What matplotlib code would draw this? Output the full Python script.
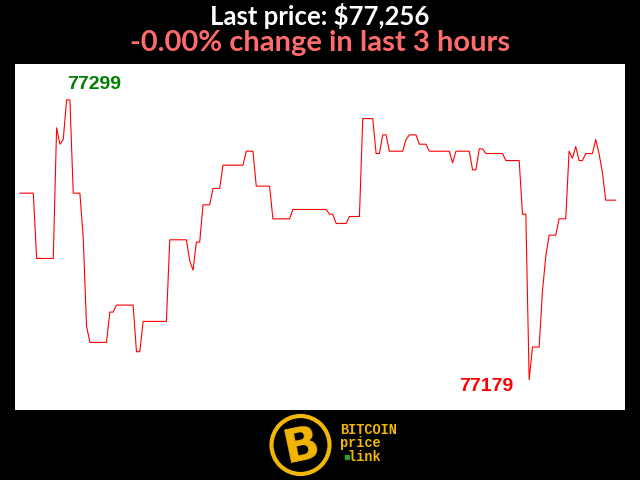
import matplotlib
matplotlib.use("Agg")
import matplotlib.pyplot as plt
import numpy as np
from matplotlib.patches import Circle

# price per minute over the last 3 hours
prices = [
    77259, 77259, 77259, 77259, 77259, 77231, 77231, 77231, 77231, 77231,
    77231, 77287, 77280, 77282, 77299, 77299, 77259, 77259, 77259, 77240,
    77202, 77195, 77195, 77195, 77195, 77195, 77195, 77208, 77208, 77211,
    77211, 77211, 77211, 77211, 77211, 77191, 77191, 77204, 77204, 77204,
    77204, 77204, 77204, 77204, 77204, 77239, 77239, 77239, 77239, 77239,
    77239, 77230, 77226, 77238, 77238, 77254, 77254, 77254, 77261, 77261,
    77261, 77271, 77271, 77271, 77271, 77271, 77271, 77271, 77277, 77277,
    77277, 77262, 77262, 77262, 77262, 77262, 77248, 77248, 77248, 77248,
    77248, 77248, 77252, 77252, 77252, 77252, 77252, 77252, 77252, 77252,
    77252, 77252, 77252, 77250, 77250, 77246, 77246, 77246, 77246, 77249,
    77249, 77249, 77249, 77291, 77291, 77291, 77291, 77276, 77276, 77284,
    77284, 77277, 77277, 77277, 77277, 77277, 77282, 77284, 77284, 77284,
    77280, 77280, 77280, 77277, 77277, 77277, 77277, 77277, 77277, 77277,
    77272, 77277, 77277, 77277, 77277, 77277, 77269, 77269, 77278, 77278,
    77276, 77276, 77276, 77276, 77276, 77276, 77273, 77273, 77273, 77273,
    77273, 77250, 77250, 77179, 77193, 77193, 77193, 77217, 77232, 77241,
    77241, 77241, 77248, 77248, 77248, 77277, 77274, 77279, 77273, 77273,
    77276, 77276, 77276, 77282, 77276, 77268, 77256, 77256, 77256, 77256,
]
last_price = 77256
pct_change = "-0.00"
hours = 3

prices = np.array(prices)
minutes = np.arange(len(prices))
i_max = int(np.argmax(prices))
i_min = int(np.argmin(prices))

fig = plt.figure(figsize=(6.4, 4.8), dpi=100, facecolor="black")
ax = fig.add_axes([15 / 640, 1 - 410 / 480, 610 / 640, 346 / 480])
ax.set_facecolor("white")
ax.plot(minutes, prices, color="red", lw=0.8)
ax.set_xlim(-1.5, 181.8)
ax.set_ylim(prices.min() - 13, prices.max() + 15.4)
ax.set_xticks([])
ax.set_yticks([])
for s in ax.spines.values():
    s.set_visible(False)

ax.annotate(str(prices[i_max]), (i_max, prices[i_max]), xytext=(1, 11),
            textcoords="offset pixels", ha="left", va="baseline",
            color="green", fontsize=14, fontweight="bold", family="Liberation Sans")
ax.annotate(str(prices[i_min]), (i_min, prices[i_min]), xytext=(-16, -11),
            textcoords="offset pixels", ha="right", va="baseline",
            color="red", fontsize=14, fontweight="bold", family="Liberation Sans")

fig.text(0.5, 1 - 25 / 480, f"Last price: ${last_price:,}", ha="center", va="baseline",
         color="white", fontsize=18.5, fontweight="bold", family="Lato")
fig.text(0.5, 1 - 51 / 480, f"{pct_change}% change in last {hours} hours",
         ha="center", va="baseline", color="#ff6b6b", fontsize=21, fontweight="bold", family="Lato")

# logo
gold = "#f2b705"
lax = fig.add_axes([0, 0, 1, 1], facecolor="none")
lax.set_xlim(0, 640)
lax.set_ylim(480, 0)
lax.axis("off")
lax.add_patch(Circle((300.5, 445), 29, fill=False, ec=gold, lw=3))
lax.text(302, 447, "B", ha="center", va="center", color=gold, fontsize=34,
         fontweight="heavy", family="DejaVu Sans", rotation=12)
lax.text(340, 430, "BITCOIN", ha="left", va="center", color=gold, fontsize=9.8,
         fontweight="bold", family="Liberation Mono")
lax.text(340, 443, "price", ha="left", va="center", color=gold, fontsize=9.8,
         fontweight="bold", family="Liberation Mono")
lax.text(340, 457, " link", ha="left", va="center", color=gold, fontsize=9.8,
         fontweight="bold", family="Liberation Mono")
lax.plot([346.5], [457], "s", color="#2e9e2e", ms=2.5)

fig.savefig("out.png", dpi=100, facecolor="black")
